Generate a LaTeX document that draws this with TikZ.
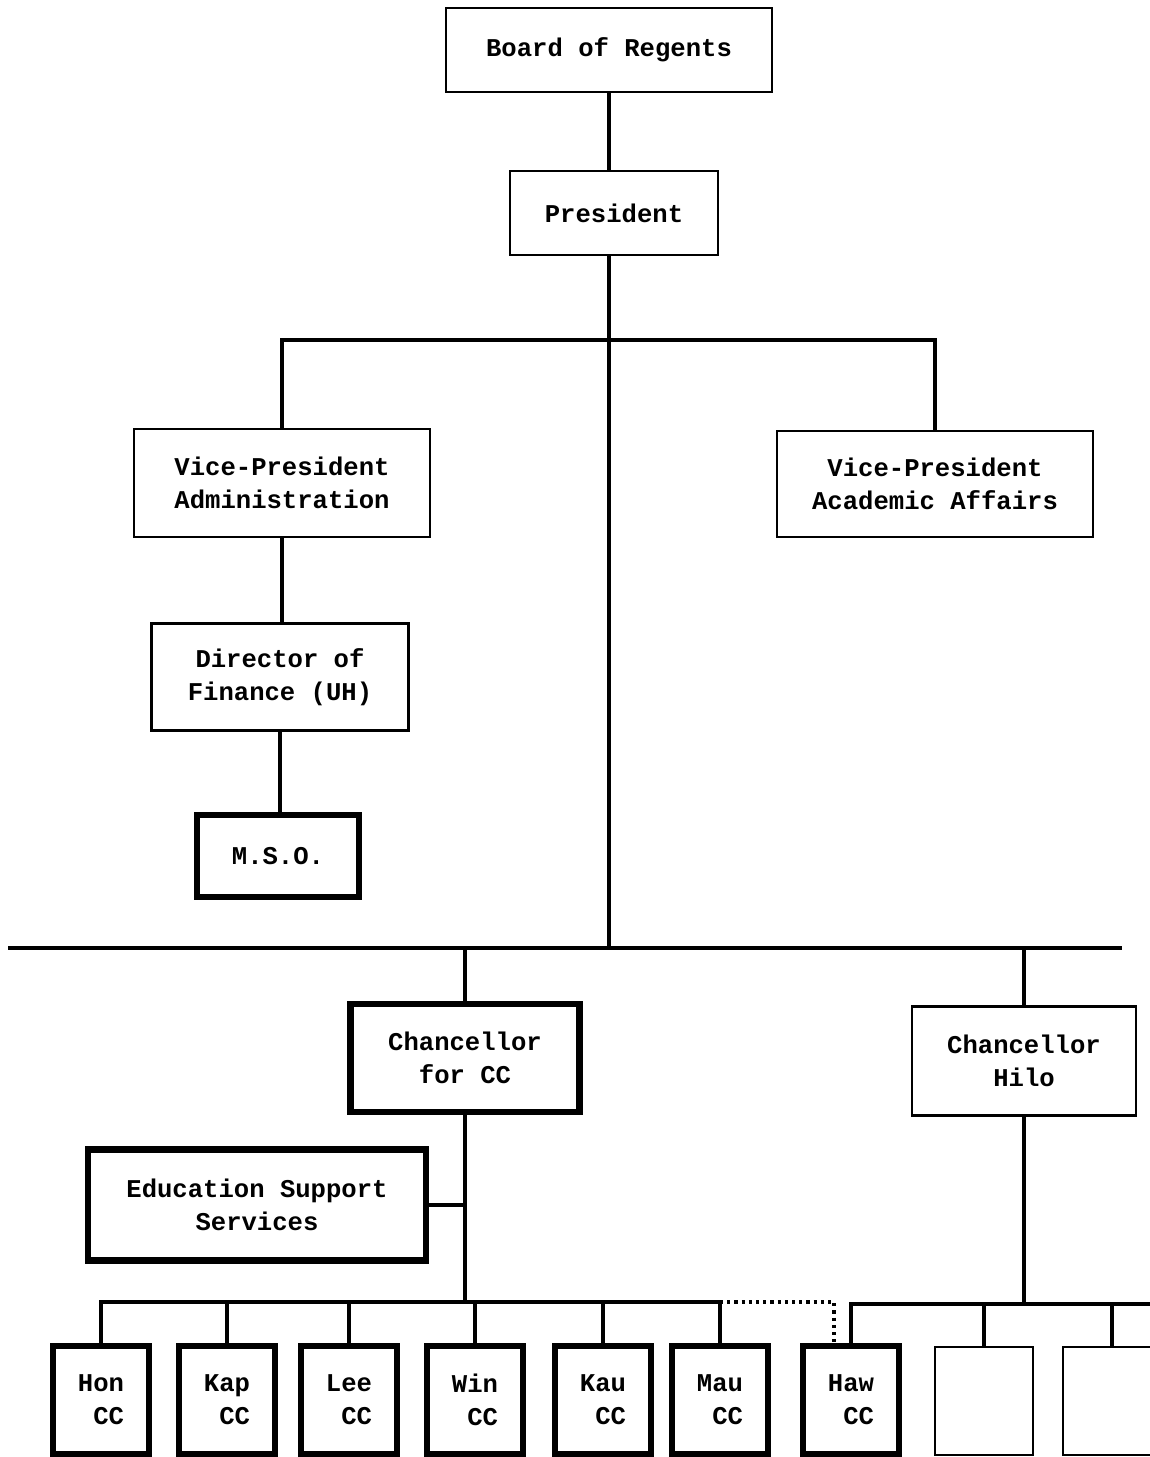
\documentclass[tikz,border=0pt]{standalone}
\usepackage{fontspec}
\newfontfamily\typewriter{Liberation Mono}
\usepackage{tikz}
\usetikzlibrary{calc}

\tikzset{
  unit/.style={draw, line width=1.3pt, fill=white, align=center,
    inner sep=0pt, font=\typewriter\bfseries\fontsize{12.8}{16.5}\selectfont},
  heavyunit/.style={unit, line width=3.2pt},
  campus/.style={heavyunit, minimum width=48pt, minimum height=54pt, align=right},
  blankunit/.style={unit, minimum width=49pt, minimum height=54pt},
  link/.style={line width=1.6pt}
}

\begin{document}
\begin{tikzpicture}[x=0.5pt, y=-0.5pt]
  \useasboundingbox (0,0) rectangle (1150,1457);
  \fill[white] (0,0) rectangle (1150,1457);
  % upper part
  \node[unit, minimum width=163pt, minimum height=42pt] (board) at (609,50) {Board of Regents};
  \node[unit, minimum width=104pt, minimum height=42pt] (pres) at (614,213) {President};
  \node[unit, minimum width=148pt, minimum height=54pt] (vpadm) at (282,483) {Vice-President\\Administration};
  \node[unit, minimum width=158pt, minimum height=53pt] (vpaca) at (935,484) {Vice-President\\Academic Affairs};
  \node[unit, minimum width=128.5pt, minimum height=53.5pt] (dirfin) at (280,677) {Director of\\Finance (UH)};
  \node[heavyunit, minimum width=81pt, minimum height=41pt] (mso) at (278,856) {M.S.O.};
  % lower part
  \node[heavyunit, minimum width=114.5pt, minimum height=54pt] (chcc) at (465,1058) {Chancellor\\for CC};
  \node[unit, minimum width=112pt, minimum height=54.5pt] (chhilo) at (1024,1061) {Chancellor\\Hilo};
  \node[heavyunit, minimum width=169pt, minimum height=55.5pt] (ess) at (257,1205) {Education Support\\Services};
  \node[campus] (hon) at (101,1400) {Hon\\CC};
  \node[campus] (kap) at (227,1400) {Kap\\CC};
  \node[campus] (lee) at (349,1400) {Lee\\CC};
  \node[campus] (win) at (475,1400) {Win\\CC};
  \node[campus] (kau) at (603,1400) {Kau\\CC};
  \node[campus] (mau) at (720,1400) {Mau\\CC};
  \node[campus] (haw) at (851,1400) {Haw\\CC};
  \node[blankunit] (blanka) at (984,1401) {};
  \node[blankunit] (blankb) at (1112,1401) {};
  % junctions
  \coordinate (split) at (609,340);
  \coordinate (busleft) at (8,948);
  \coordinate (busright) at (1122,948);
  \coordinate (ccrow) at (0,1302);
  \coordinate (hilorow) at (1160,1304);
  \coordinate (dotcorner) at (834,1302);
  % connectors
  \draw[link] (board.south) -- (board.south |- pres.north);
  \draw[link] (pres.south -| board.south) -- (board.south |- busleft);
  \draw[link] (vpadm.north) |- (split) -| (vpaca.north);
  \draw[link] (vpadm.south) -- (vpadm.south |- dirfin.north);
  \draw[link] (dirfin.south) -- (dirfin.south |- mso.north);
  \draw[link] (busleft) -- (busright);
  \draw[link] (chcc.north) -- (chcc.north |- busleft);
  \draw[link] (chhilo.north) -- (chhilo.north |- busleft);
  \draw[link] (chcc.south) -- (chcc.south |- ccrow);
  \draw[link] (ess.east) -- (ess.east -| chcc.south);
  \draw[link] (hon.north) |- (ccrow -| mau.north) -- (mau.north);
  \foreach \cc in {kap,lee,win,kau}
    \draw[link] (\cc.north) -- (\cc.north |- ccrow);
  \draw[link, dotted] (ccrow -| mau.north) -- (dotcorner) -- (dotcorner |- haw.north);
  \draw[link] (chhilo.south) -- (chhilo.south |- hilorow);
  \draw[link] (haw.north) |- (hilorow);
  \foreach \cc in {blanka,blankb}
    \draw[link] (\cc.north) -- (\cc.north |- hilorow);
\end{tikzpicture}
\end{document}
